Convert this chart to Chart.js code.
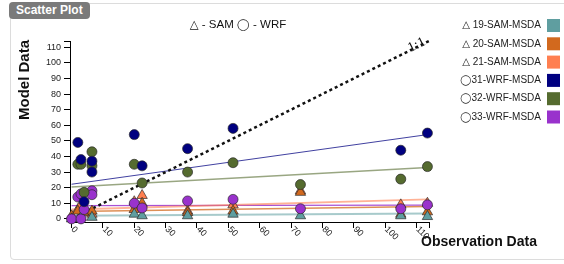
<!DOCTYPE html>
<html><head><meta charset="utf-8">
<script src="https://cdn.jsdelivr.net/npm/chart.js@4/dist/chart.umd.min.js"></script>
<style>
html,body{margin:0;padding:0;background:#fff;}
#wrap{position:relative;width:564px;height:264px;overflow:hidden;font-family:"Liberation Sans",Arial,sans-serif;}
#card{position:absolute;left:10px;top:3px;width:580px;height:255px;border:1px solid #dcdcdc;border-radius:4px;}
#tab{position:absolute;left:9px;top:2px;height:17px;padding:0 7px;background:#7a7a7a;color:#fff;font-weight:bold;font-size:12px;line-height:17px;border-radius:4px;}
canvas{position:absolute;left:0;top:0;}
</style></head>
<body><div id="wrap"><div id="card"></div><div id="tab">Scatter Plot</div><canvas id="c" width="564" height="264"></canvas></div>
<script>
// ---- data ----
const seriesNames = ["19-SAM-MSDA","20-SAM-MSDA","21-SAM-MSDA","31-WRF-MSDA","32-WRF-MSDA","33-WRF-MSDA"];
const seriesModel = ["SAM","SAM","SAM","WRF","WRF","WRF"];
const seriesColors = ["#5F9EA0","#D2691E","#FF7F50","#000080","#556B2F","#9932CC"];

const obs19 = [0, 3, 6.5, 20, 22.5, 37, 51.5, 73, 105, 113.5];
const mod19 = [0, 1, 1, 3, 2, 2, 3, 2, 2, 1.5];
const obs20 = [0, 2, 4, 6.5, 20, 22.5, 37, 51.5, 73, 105, 113.5];
const mod20 = [2, 5, 4, 5, 6, 10, 4, 5, 17, 3, 4.5];
const obs21 = [2, 3, 6.5, 20, 22.5, 37, 51.5, 73, 105, 113.5];
const mod21 = [6, 9, 3, 11, 15, 5, 9, 18, 9, 10];
const obs31 = [2, 3, 4, 6.5, 6.5, 20, 22.5, 37, 51.5, 105, 113.5];
const mod31 = [49, 38, 11, 37, 30, 54, 34, 45, 58, 44, 55];
const obs32 = [2, 3, 4, 6.5, 6.5, 20, 22.5, 37, 51.5, 73, 105, 113.5];
const mod32 = [35, 35, 17, 43, 34, 35, 23, 30, 36, 22, 25.5, 33.5];
const obs33 = [0, 2, 3, 3, 4, 6.5, 6.5, 20, 22.5, 37, 51.5, 73, 105, 113.5];
const mod33 = [0, 14, 16, 0, 6, 18, 15.5, 10, 7, 11.5, 12.5, 6.5, 6.5, 9];

// trend line end values (at obs 0 and obs 113.5)
const trendX = [0, 113.5];
const trend19 = [2, 3.5];
const trend20 = [4.8, 8];
const trend21 = [6, 12.5];
const trend31 = [22.2, 54];
const trend32 = [20.5, 33];
const trend33 = [8.5, 8.8];

const oneToOne = [0, 114];
const xTicks = [0,10,20,30,40,50,60,70,80,90,100,110];
const yTicks = [0,10,20,30,40,50,60,70,80,90,100,110];

const obsAll = [obs19, obs20, obs21, obs31, obs32, obs33];
const modAll = [mod19, mod20, mod21, mod31, mod32, mod33];
const trendAll = [trend19, trend20, trend21, trend31, trend32, trend33];
const trendAlpha = [0.55, 0.75, 0.6, 0.75, 0.6, 0.85];
const trendWidth = [2, 1.5, 2, 1, 1.5, 1.2];

const FONT = '"Liberation Sans", Arial, sans-serif';

function hexA(h, a){const r=parseInt(h.slice(1,3),16),g=parseInt(h.slice(3,5),16),b=parseInt(h.slice(5,7),16);return `rgba(${r},${g},${b},${a})`;}

const datasets = [];
// points
seriesNames.forEach((n,i)=>{
  datasets.push({
    label:n,
    data: obsAll[i].map((x,k)=>({x, y: modAll[i][k]})),
    pointStyle: seriesModel[i]==="SAM" ? "triangle" : "circle",
    pointRadius: seriesModel[i]==="SAM" ? 6 : 5,
    backgroundColor: seriesColors[i],
    borderColor: "rgba(40,40,40,0.85)",
    borderWidth: 0.8,
    showLine:false,
    clip:false,
    order: seriesModel[i]==="SAM" ? 5 : 1
  });
});
// trend lines
seriesNames.forEach((n,i)=>{
  datasets.push({
    label:n+" trend",
    data: trendX.map((x,k)=>({x, y: trendAll[i][k]})),
    showLine:true, pointRadius:0,
    borderColor: hexA(seriesColors[i], trendAlpha[i]),
    borderWidth: trendWidth[i],
    clip:false,
    order: 10
  });
});
// 1:1 line
datasets.push({
  label:"1:1",
  data: oneToOne.map(v=>({x:v,y:v})),
  showLine:true, pointRadius:0,
  borderColor:"#111", borderWidth:2.5, borderDash:[3,3],
  clip:false, order: 8
});

const textPlugin = {
  id:'texts',
  afterDraw(chart){
    const c = chart.ctx, xs = chart.scales.x, ys = chart.scales.y, a = chart.chartArea;
    c.save();
    // outer ticks (axis brackets)
    c.strokeStyle = '#000'; c.lineWidth = 1;
    c.beginPath();
    c.moveTo(a.left-6, Math.round(a.top)+0.5); c.lineTo(a.left, Math.round(a.top)+0.5);
    c.moveTo(Math.round(a.right)+0.5, a.bottom); c.lineTo(Math.round(a.right)+0.5, a.bottom+6);
    c.stroke();
    // title
    c.fillStyle = '#111';
    c.font = `11.5px ${FONT}, "DejaVu Sans"`;
    c.textAlign = 'center'; c.textBaseline = 'middle';
    c.fillText('△ - SAM ◯ - WRF', 238, 25);
    // axis titles
    c.font = `bold 15px ${FONT}`;
    c.save(); c.translate(25, 80); c.rotate(-Math.PI/2);
    c.fillText('Model Data', 0, 0); c.restore();
    c.font = `bold 14px ${FONT}`;
    c.textAlign = 'left';
    c.fillText('Observation Data', 421, 242);
    // x tick labels rotated
    c.font = `9px ${FONT}`; c.fillStyle = '#222';
    xs.ticks.forEach(t=>{
      const px = xs.getPixelForValue(t.value);
      c.save(); c.translate(px+1, a.bottom+6); c.rotate(Math.PI/4);
      c.textAlign='left'; c.textBaseline='middle';
      c.fillText(String(t.value), 0, 0); c.restore();
    });
    // 1:1 label along the line
    const p0x = xs.getPixelForValue(oneToOne[0]), p0y = ys.getPixelForValue(oneToOne[0]);
    const p1x = xs.getPixelForValue(oneToOne[1]), p1y = ys.getPixelForValue(oneToOne[1]);
    const ang = Math.atan2(p1y-p0y, p1x-p0x);
    const lx = xs.getPixelForValue(110.3), ly = ys.getPixelForValue(110.3);
    c.save(); c.translate(lx, ly); c.rotate(ang);
    c.font = `14px "Liberation Serif", "DejaVu Serif", serif`; c.fillStyle = '#111';
    c.textAlign='center'; c.textBaseline='middle';
    c.fillText('1:1', 0, -2); c.restore();
    // legend
    c.font = `10px ${FONT}, "DejaVu Sans"`; c.textAlign='right'; c.textBaseline='middle';
    seriesNames.forEach((n,i)=>{
      const y = 25.5 + i*18.3;
      c.fillStyle = '#222';
      const sym = seriesModel[i]==='SAM' ? '△ ' : '◯';
      c.fillText(sym + n, 541, y);
      c.fillStyle = seriesColors[i];
      c.fillRect(547, y-6.5, 13, 13);
    });
    c.restore();
  }
};

new Chart(document.getElementById('c'), {
  type:'scatter',
  data:{datasets},
  options:{
    responsive:false, animation:false, devicePixelRatio:1,
    layout:{padding:{top:41, right:135, left:0, bottom:0}},
    plugins:{legend:{display:false}, tooltip:{enabled:false}},
    scales:{
      x:{type:'linear', min:-0.5, max:114,
        afterBuildTicks:s=>{s.ticks = xTicks.map(v=>({value:v}));},
        afterFit:s=>{s.height=42;},
        ticks:{display:false},
        grid:{drawOnChartArea:false, drawTicks:true, tickLength:6, color:'#000'},
        border:{display:true, color:'#000', width:1}},
      y:{type:'linear', min:-2, max:114,
        afterBuildTicks:s=>{s.ticks = yTicks.map(v=>({value:v}));},
        afterFit:s=>{s.width=70;},
        ticks:{font:{size:9, family:FONT}, color:'#222', padding:3},
        grid:{drawOnChartArea:false, drawTicks:true, tickLength:6, color:'#000'},
        border:{display:true, color:'#000', width:1}}
    }
  },
  plugins:[textPlugin]
});
</script>
</body></html>
